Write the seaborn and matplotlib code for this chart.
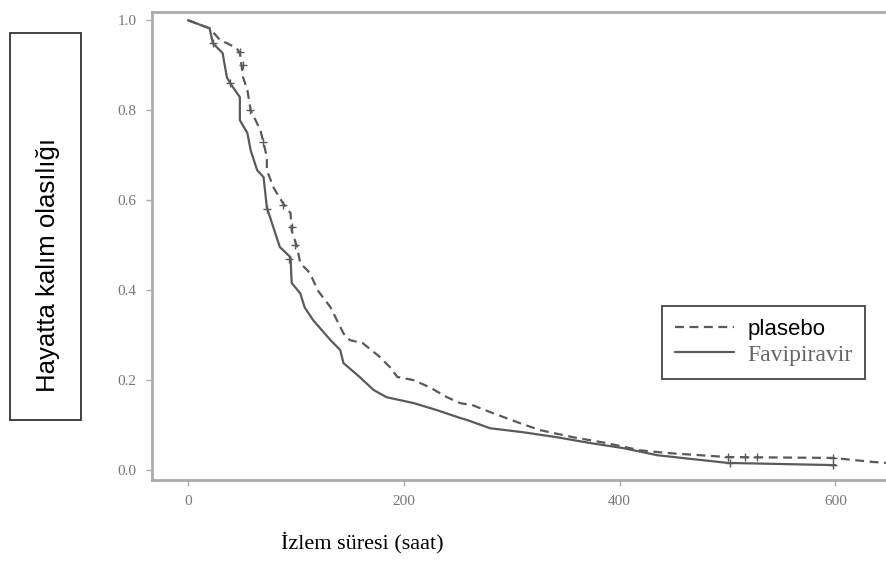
import matplotlib
matplotlib.use("Agg")
import matplotlib.pyplot as plt
import matplotlib.patches as mpatches
from matplotlib.lines import Line2D
import seaborn as sns
import pandas as pd

# Kaplan-Meier curves (time in hours, survival probability)
fav_time = [0, 20, 23, 32, 36, 39, 48, 48, 55, 58, 64, 70, 73, 79, 85, 95, 96, 104, 108,
            116, 132, 141, 144, 159, 172, 184, 209, 231, 252, 259, 280, 311, 342, 373,
            403, 435, 500, 600]
fav_surv = [1.0, 0.982, 0.949, 0.927, 0.873, 0.86, 0.829, 0.778, 0.749, 0.711, 0.667,
            0.651, 0.584, 0.54, 0.496, 0.473, 0.416, 0.393, 0.362, 0.333, 0.289, 0.267,
            0.238, 0.207, 0.178, 0.162, 0.149, 0.133, 0.116, 0.111, 0.093, 0.084, 0.073,
            0.06, 0.049, 0.033, 0.016, 0.011]

pla_time = [0, 20, 30, 36, 45, 48, 51, 55, 58, 67, 70, 73, 73, 79, 88, 95, 96, 101, 104,
            113, 120, 132, 144, 150, 162, 178, 187, 194, 209, 224, 240, 252, 264, 280,
            308, 326, 357, 388, 419, 444, 500, 598, 635, 648]
pla_surv = [1.0, 0.982, 0.955, 0.949, 0.938, 0.927, 0.873, 0.844, 0.8, 0.756, 0.727,
            0.696, 0.667, 0.629, 0.593, 0.571, 0.533, 0.496, 0.46, 0.438, 0.4, 0.362,
            0.304, 0.289, 0.282, 0.251, 0.229, 0.207, 0.2, 0.184, 0.162, 0.149, 0.144,
            0.129, 0.104, 0.089, 0.073, 0.06, 0.044, 0.038, 0.029, 0.027, 0.018, 0.016]

# censor marks
fav_cens_t = [23, 39, 73, 94, 502, 598]
fav_cens_s = [0.95, 0.86, 0.58, 0.47, 0.016, 0.012]
pla_cens_t = [48, 51, 57, 69, 88, 96, 99, 500, 516, 527, 598]
pla_cens_s = [0.93, 0.9, 0.8, 0.73, 0.59, 0.54, 0.5, 0.029, 0.028, 0.028, 0.027]

groups = ["plasebo", "Favipiravir"]
x_ticks = [0, 200, 400, 600]
y_ticks = [0.0, 0.2, 0.4, 0.6, 0.8, 1.0]

df = pd.concat([
    pd.DataFrame({"t": fav_time, "s": fav_surv, "grup": "Favipiravir"}),
    pd.DataFrame({"t": pla_time, "s": pla_surv, "grup": "plasebo"}),
])

sns.set_style("white")
line_col = "#5a5a5a"
spine_col = "#ababab"

fig = plt.figure(figsize=(8.87, 5.79), dpi=100)
ax = fig.add_axes([0.1714, 0.171, 0.8286, 0.808])

sns.lineplot(data=df, x="t", y="s", hue="grup", style="grup",
             palette={g: line_col for g in groups},
             dashes={"plasebo": (4, 2.5), "Favipiravir": ""},
             linewidth=1.6, sort=False, estimator=None, ax=ax, legend=False)
sns.scatterplot(x=fav_cens_t, y=fav_cens_s, marker="+", color=line_col, s=30,
                linewidth=1.0, ax=ax)
sns.scatterplot(x=pla_cens_t, y=pla_cens_s, marker="+", color=line_col, s=30,
                linewidth=1.0, ax=ax)

ax.set_xlim(-33.4, 647.8)
ax.set_ylim(-0.022, 1.018)
ax.set_xticks(x_ticks)
ax.set_xticklabels([str(v) for v in x_ticks])
ax.set_yticks(y_ticks)
ax.set_yticklabels([f"{v:.1f}" for v in y_ticks])
for lab in ax.get_xticklabels() + ax.get_yticklabels():
    lab.set_fontfamily("Liberation Serif")
    lab.set_fontsize(11)
    lab.set_color("#777777")
ax.tick_params(axis="both", direction="out", length=4, width=1, color=spine_col,
               bottom=True, left=True, pad=7)
ax.set_xlabel("")
ax.set_ylabel("")

for side in ["left", "top", "bottom"]:
    ax.spines[side].set_color(spine_col)
    ax.spines[side].set_linewidth(2)
ax.spines["right"].set_visible(False)

# legend
handles = [Line2D([0], [0], color=line_col, lw=1.6, dashes=(4, 2.5)),
           Line2D([0], [0], color=line_col, lw=1.6)]
leg = ax.legend(handles, groups, loc="upper left", bbox_to_anchor=(0.694, 0.372),
                frameon=True, fancybox=False, edgecolor="#444444", framealpha=1,
                handlelength=2.5, handletextpad=0.55, borderpad=0.55, labelspacing=0.15,
                borderaxespad=0, prop={"size": 17})
leg.get_frame().set_linewidth(1.3)
t0, t1 = leg.get_texts()
t0.set_fontfamily("Liberation Sans")
t0.set_fontsize(16)
t0.set_color("black")
t1.set_fontfamily("Liberation Serif")
t1.set_fontsize(17)
t1.set_color("#666666")

# axis titles
fig.text(0.408, 0.063, "İzlem süresi (saat)", family="Liberation Serif",
         fontsize=16, ha="center", va="center", color="black")
fig.patches.append(mpatches.Rectangle((0.0113, 0.2746), 0.0795, 0.668,
                                      transform=fig.transFigure, fill=False,
                                      edgecolor="#333333", linewidth=1.3))
fig.text(0.054, 0.542, "Hayatta kalım olasılığı", family="Liberation Sans",
         fontsize=18.5, rotation=90, ha="center", va="center", color="black")

fig.savefig("out.png", dpi=100)
